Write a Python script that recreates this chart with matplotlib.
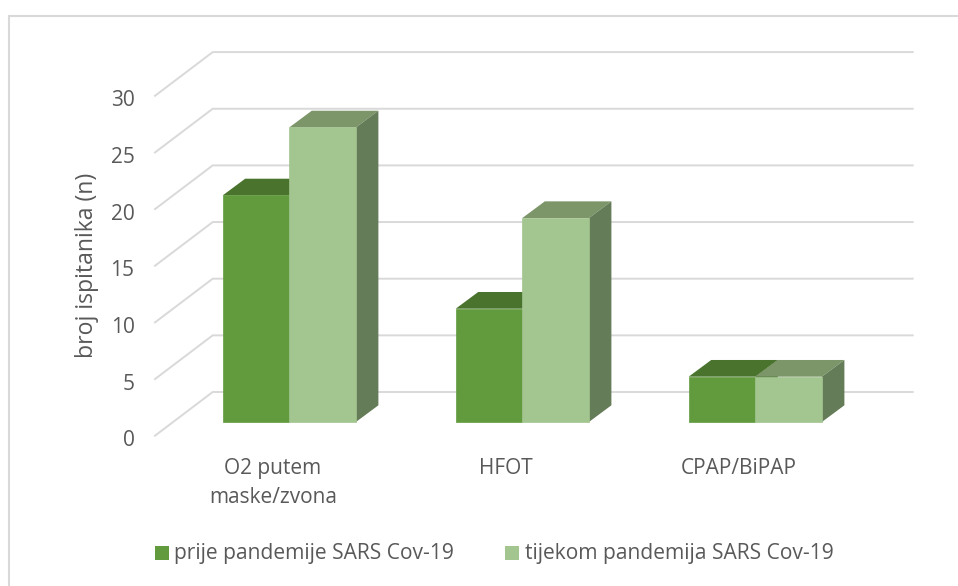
import matplotlib
matplotlib.use('Agg')
import matplotlib.pyplot as plt
from matplotlib.patches import Rectangle

plt.rcParams['font.family'] = ['Open Sans', 'DejaVu Sans']

categories = ['O2 putem\nmaske/zvona', 'HFOT', 'CPAP/BiPAP']
before = [20, 10, 4]
during = [26, 18, 4]
y_ticks = [0, 5, 10, 15, 20, 25, 30]
series_names = ['prije pandemije SARS Cov-19', 'tijekom pandemija SARS Cov-19']

W, H = 958, 586
# pixels per data unit, origin = centre of first group on the bar floor
PX_X, PX_Y = 233.0, 11.33
X0, Y0 = 289.3, 422.0


def px_x(p):
    return (p - X0) / PX_X


def px_y(p):
    return (Y0 - p) / PX_Y


BAR_W = 66.6 / PX_X
DEPTH_X = 22.5 / PX_X
DEPTH_Y = 16.7 / PX_Y

DARK = ('#629A3E', '#4A742E', '#4A742E')
LIGHT = ('#A3C58F', '#7C9569', '#657C58')
GRID = '#D9D9D9'
TEXT = '#595959'

fig = plt.figure(figsize=(W / 100, H / 100), dpi=100)
ax = fig.add_axes([0, 0, 1, 1])
ax.set_xlim(px_x(0), px_x(W))
ax.set_ylim(px_y(H), px_y(0))
ax.axis('off')

# chart frame, cropped on the right and at the bottom
ax.plot([px_x(9.5), px_x(9.5), px_x(W)], [px_y(H), px_y(16), px_y(16)], color=GRID, lw=1.5,
        zorder=0, solid_joinstyle='miter')

# gridlines: left wall + back wall
for t in y_ticks:
    y_front = px_y(435.7) + t
    y_back = px_y(392) + t
    ax.plot([px_x(155), px_x(212.7), px_x(912.7)], [y_front, y_back, y_back],
            color=GRID, lw=1.4, zorder=1, solid_joinstyle='miter')
    ax.text(px_x(134.5), y_front - 0.45, str(t), ha='right', va='center', fontsize=15, color=TEXT)


def bar3d(left, value, cols, z):
    right = left + BAR_W
    ax.fill([left, left + DEPTH_X, right + DEPTH_X, right],
            [value, value + DEPTH_Y, value + DEPTH_Y, value], color=cols[1], lw=0, zorder=z)
    ax.fill([right, right + DEPTH_X, right + DEPTH_X, right],
            [0, DEPTH_Y, value + DEPTH_Y, value], color=cols[2], lw=0, zorder=z)
    ax.add_patch(Rectangle((left, 0), BAR_W, value, fc=cols[0], ec=cols[0], lw=0.5, zorder=z + 0.5))


for i, cat in enumerate(categories):
    bar3d(i - BAR_W, before[i], DARK, 2 + i)
    bar3d(i, during[i], LIGHT, 2.6 + i)
    # labels sit a bit left of the bars, one baseline per line
    for k, line in enumerate(cat.split('\n')):
        ax.text(i - 16.3 / PX_X, px_y(474 + 29 * k), line, ha='center', va='baseline',
                fontsize=15, color=TEXT)

ax.text(px_x(87.5), px_y(265.5), 'broj ispitanika (n)', rotation=90, ha='center', va='center',
        fontsize=16.6, color=TEXT)

# legend
for left, text_left, cols, name in zip([155, 505], [174, 525], [DARK, LIGHT], series_names):
    ax.add_patch(Rectangle((px_x(left), px_y(560)), 14 / PX_X, 14.3 / PX_Y, fc=cols[0], lw=0))
    ax.text(px_x(text_left), px_y(553), name, ha='left', va='center', fontsize=15.1, color=TEXT)

fig.savefig('out.png', dpi=100)
